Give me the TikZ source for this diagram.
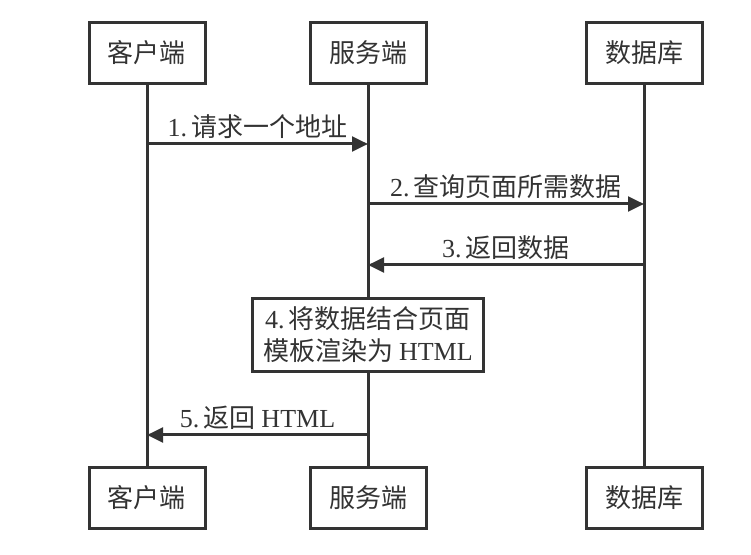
\documentclass[tikz,border=0pt]{standalone}
\usepackage{fontspec}
\setmainfont{Liberation Serif}
\newfontfamily\cjk{Noto Sans CJK SC}
\usetikzlibrary{arrows.meta}
\definecolor{ink}{HTML}{333333}
\begin{document}
\begin{tikzpicture}[x=0.75pt,y=-0.75pt,
  every node/.style={font=\cjk\fontsize{19.5}{24}\selectfont,text=ink},
  actor/.style={draw=ink,line width=2.25pt,fill=white,minimum width=87pt,minimum height=45.5pt,inner sep=0pt},
  life/.style={draw=ink,line width=2.25pt},
  msg/.style={draw=ink,line width=2.25pt,-{Triangle[length=12pt,width=11pt]}},
  lbl/.style={above=3pt,inner sep=0pt},
  step box/.style={draw=ink,line width=2.25pt,fill=white,minimum width=173pt,minimum height=55pt,align=center,inner sep=0pt}
  ]
    \useasboundingbox (0,0) rectangle (751,555);

    % participants
    \node[actor] (ctop) at (147,53) {客户端};
    \node[actor] (stop) at (368,53) {服务端};
    \node[actor] (dtop) at (644,53) {数据库};
    \node[actor] (cbot) at (147,498) {客户端};
    \node[actor] (sbot) at (368,498) {服务端};
    \node[actor] (dbot) at (644,498) {数据库};

    % lifelines
    \draw[life] (ctop) -- (cbot);
    \draw[life] (stop) -- (sbot);
    \draw[life] (dtop) -- (dbot);

    % messages
    \draw[msg] (ctop |- 0,144) -- node[lbl] {{\rmfamily 1.\,}请求一个地址} (stop |- 0,144);
    \draw[msg] (stop |- 0,204) -- node[lbl] {{\rmfamily 2.\,}查询页面所需数据} (dtop |- 0,204);
    \draw[msg] (dtop |- 0,265) -- node[lbl] {{\rmfamily 3.\,}返回数据} (stop |- 0,265);
    \node[step box] (render) at (368,335) {{\rmfamily 4.\,}将数据结合页面\\模板渲染为 {\rmfamily HTML}};
    \draw[msg] (stop |- 0,435) -- node[lbl] {{\rmfamily 5.\,}返回 {\rmfamily HTML}} (ctop |- 0,435);
\end{tikzpicture}
\end{document}
